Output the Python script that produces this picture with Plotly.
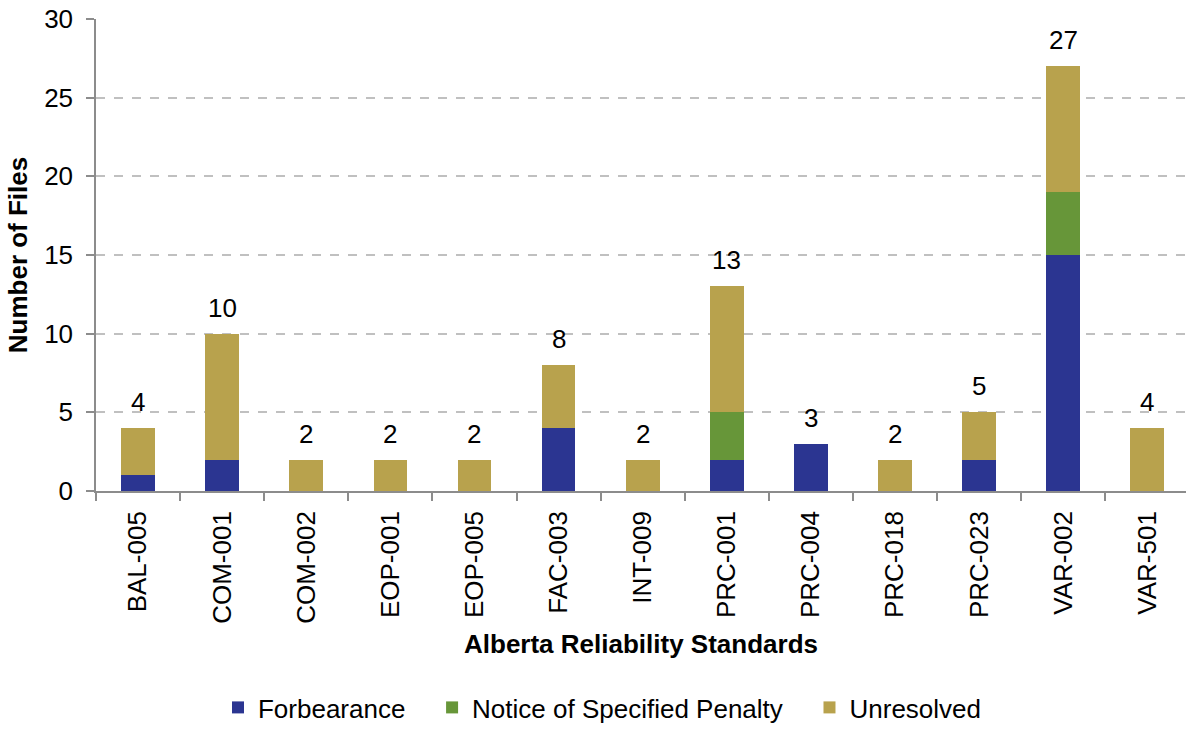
import plotly.graph_objects as go

categories = ["BAL-005", "COM-001", "COM-002", "EOP-001", "EOP-005", "FAC-003", "INT-009",
              "PRC-001", "PRC-004", "PRC-018", "PRC-023", "VAR-002", "VAR-501"]
forbearance = [1, 2, 0, 0, 0, 4, 0, 2, 3, 0, 2, 15, 0]
notice_penalty = [0, 0, 0, 0, 0, 0, 0, 3, 0, 0, 0, 4, 0]
unresolved = [3, 8, 2, 2, 2, 4, 2, 8, 0, 2, 3, 8, 4]
series_names = ["Forbearance", "Notice of Specified Penalty", "Unresolved"]
totals = [f + n + u for f, n, u in zip(forbearance, notice_penalty, unresolved)]

FONT = "Liberation Sans, Arial, sans-serif"
colors = ["#2B3591", "#679639", "#B8A24D"]
NBSP = "\u00a0"

fig = go.Figure()
for i, (name, vals) in enumerate(zip(series_names, [forbearance, notice_penalty, unresolved])):
    label = name + (NBSP * 3 if i < 2 else "")
    fig.add_trace(go.Bar(x=categories, y=vals, name=label,
                         marker=dict(color=colors[i], line=dict(width=0)),
                         width=0.4))

for c, t in zip(categories, totals):
    fig.add_annotation(x=c, y=t, text=str(t), showarrow=False, yanchor="bottom",
                       yshift=9, font=dict(family=FONT, size=26, color="black"))

fig.update_layout(
    width=1186, height=731,
    barmode="stack",
    plot_bgcolor="white", paper_bgcolor="white",
    margin=dict(l=96, r=0, t=19, b=240, autoexpand=False),
    font=dict(family=FONT, size=26, color="black"),
    showlegend=True,
    legend=dict(orientation="h", x=0.508, xanchor="center", y=0.0, yanchor="bottom",
                yref="container", xref="container",
                font=dict(family=FONT, size=26, color="black"),
                itemwidth=30, traceorder="normal"),
)
fig.update_xaxes(
    type="category", range=[-0.5, 12.46],
    showline=True, linecolor="#8C8C8C", linewidth=1.5,
    ticks="outside", ticklen=8, tickcolor="#8C8C8C", tickwidth=1.5,
    tickson="boundaries", tickangle=-90, ticklabelstandoff=8,
    tickfont=dict(family=FONT, size=26, color="black"),
    showgrid=False,
    title=dict(text="<b>Alberta Reliability Standards</b>", standoff=12,
               font=dict(family=FONT, size=26, color="black")),
)
fig.update_yaxes(
    range=[0, 30], dtick=5, tick0=0,
    showline=True, linecolor="#8C8C8C", linewidth=1.5,
    ticks="outside", ticklen=8, tickcolor="#8C8C8C", tickwidth=1.5,
    tickfont=dict(family=FONT, size=26, color="black"),
    ticklabelstandoff=8,
    showgrid=True, gridcolor="#C0C0C0", gridwidth=1.5, griddash="dash",
    zeroline=False,
    title=dict(text="<b>Number of Files</b>", standoff=9,
               font=dict(family=FONT, size=26, color="black")),
)

fig.write_html("out.html")
